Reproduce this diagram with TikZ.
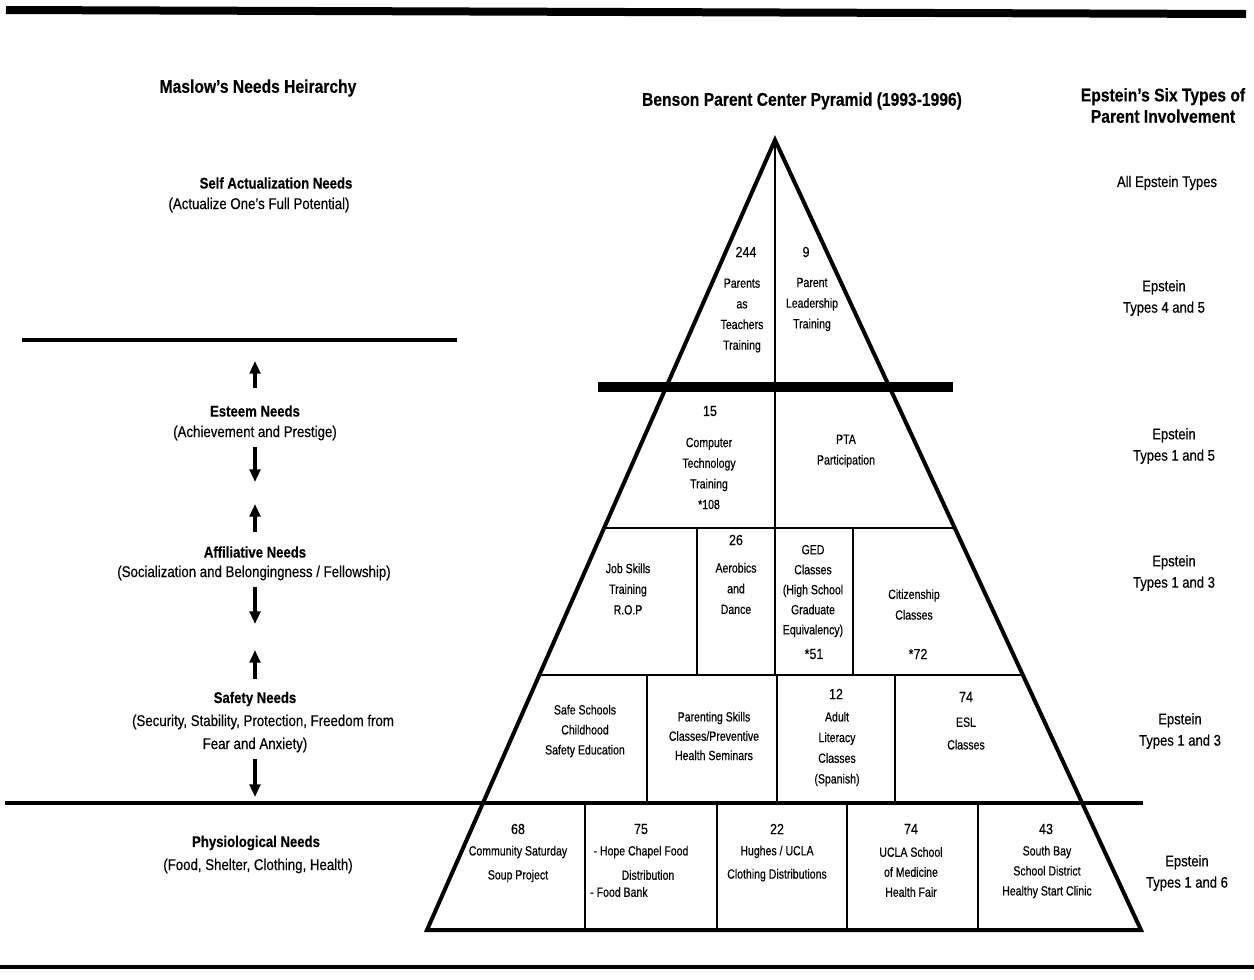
\documentclass[tikz,border=0pt]{standalone}
\usepackage{fontspec}
\setmainfont[FakeStretch=0.85, FakeBold=0.4]{Liberation Sans}
\newfontfamily\cellfont[FakeStretch=0.79, FakeBold=0.4]{Liberation Sans}
\usetikzlibrary{arrows.meta}
\begin{document}
\begin{tikzpicture}[x=0.75pt,y=-0.75pt,
  rule/.style={line width=#1, line cap=butt},
  edge/.style={line width=3pt, line join=miter},
  div/.style={line width=2pt},
  cell/.style={align=center, inner sep=0pt, font=\cellfont\fontsize{10}{15.5}\selectfont},
  num/.style={inner sep=0pt, font=\fontsize{11}{12}\selectfont},
  head/.style={inner sep=0pt, font=\bfseries\fontsize{13.8}{16}\selectfont, align=center},
  lbl/.style={inner sep=0pt, font=\fontsize{11.7}{13}\selectfont},
  lblb/.style={inner sep=0pt, font=\bfseries\fontsize{11.6}{13}\selectfont},
  rt/.style={inner sep=0pt, align=center, font=\fontsize{11.5}{16}\selectfont},
  arr/.style={line width=2.3pt, -{Triangle[length=9.5pt,width=8pt]}}
]
\useasboundingbox (0,0) rectangle (1254,979);

% rules
\draw[rule=6pt] (6,10) -- (1246,14);
\draw[rule=3pt] (0,967) -- (1254,967);
\draw[rule=3.5pt] (22,340) -- (457,340);
\draw[rule=3.5pt] (5,803) -- (1143,803);

% pyramid
\coordinate (apex) at (775,140);
\coordinate (bl) at (427,930);
\coordinate (br) at (1141,930);
\draw[edge] (bl) -- (apex) -- (br) -- cycle;
% row lines
\draw[div] (604.1,528) -- (954.6,528);
\draw[div] (539.3,675) -- (1022.7,675);
% thick bar
\draw[rule=7.5pt] (598,387) -- (953,387);
% vertical dividers
\draw[div] (775,140) -- (775,675);
\draw[div] (697,528) -- (697,675);
\draw[div] (853,528) -- (853,675);
\draw[div] (647,675) -- (647,803);
\draw[div] (777,675) -- (777,803);
\draw[div] (895,675) -- (895,803);
\draw[div] (585,803) -- (585,930);
\draw[div] (717,803) -- (717,930);
\draw[div] (847,803) -- (847,930);
\draw[div] (978,803) -- (978,930);

% titles
\node[head] (maslow) at (258,88) {Maslow's Needs Heirarchy};
\node[head] (benson) at (802,101) {Benson Parent Center Pyramid (1993-1996)};
\node[head] (epstein) at (1163,105.5) {Epstein's Six Types of\\Parent Involvement};

% left column
\node[lblb] (selfh) at (276,183) {Self Actualization Needs};
\node[lbl] (selft) at (259,205) {(Actualize One's Full Potential)};
\node[lblb] (esth) at (255,411) {Esteem Needs};
\node[lbl] (estt) at (255,433) {(Achievement and Prestige)};
\node[lblb] (affh) at (255,552) {Affiliative Needs};
\node[lbl] (afft) at (254,573) {(Socialization and Belongingness / Fellowship)};
\node[lblb] (safh) at (255,699) {Safety Needs};
\node[lbl] (saft1) at (263,722) {(Security, Stability, Protection, Freedom from};
\node[lbl] (saft2) at (255,745) {Fear and Anxiety)};
\node[lblb] (phyh) at (256,843) {Physiological Needs};
\node[lbl] (phyt) at (258,866) {(Food, Shelter, Clothing, Health)};

% arrows
\coordinate (a1s) at (255,388); \coordinate (a1e) at (255,361);
\coordinate (a2s) at (255,447); \coordinate (a2e) at (255,482);
\coordinate (a3s) at (255,532); \coordinate (a3e) at (255,504);
\coordinate (a4s) at (255,587); \coordinate (a4e) at (255,624);
\coordinate (a5s) at (255,679); \coordinate (a5e) at (255,650);
\coordinate (a6s) at (255,759); \coordinate (a6e) at (255,797);
\draw[arr] (a1s) -- (a1e);
\draw[arr] (a2s) -- (a2e);
\draw[arr] (a3s) -- (a3e);
\draw[arr] (a4s) -- (a4e);
\draw[arr] (a5s) -- (a5e);
\draw[arr] (a6s) -- (a6e);

% right column
\node[rt] (ep0) at (1167,183) {All Epstein Types};
\node[rt] (ep1) at (1164,298) {Epstein\\Types 4 and 5};
\node[rt] (ep2) at (1174,446) {Epstein\\Types 1 and 5};
\node[rt] (ep3) at (1174,573) {Epstein\\Types 1 and 3};
\node[rt] (ep4) at (1180,731) {Epstein\\Types 1 and 3};
\node[rt] (ep5) at (1187,873) {Epstein\\Types 1 and 6};

% top triangle
\node[num] (n244) at (746,252) {244};
\node[cell] (c11) at (742,315.5) {Parents\\as\\Teachers\\Training};
\node[num] (n9) at (806,252) {9};
\node[cell] (c12) at (812,304.5) {Parent\\Leadership\\Training};

% row 2
\node[num] (n15) at (710,411) {15};
\node[cell] (c21) at (709,473.5) {Computer\\Technology\\Training\\*108};
\node[cell] (c22) at (846,451) {PTA\\Participation};

% row 3
\node[cell] (c31) at (628,589) {Job Skills\\Training\\R.O.P};
\node[num] (n26) at (736,540) {26};
\node[cell] (c32) at (736,588.5) {Aerobics\\and\\Dance};
\node[cell, font=\cellfont\fontsize{10}{15}\selectfont] (c33) at (813,591) {GED\\Classes\\(High School\\Graduate\\Equivalency)};
\node[num] (n51) at (814,654) {*51};
\node[cell] (c34) at (914,604.5) {Citizenship\\Classes};
\node[num] (n72) at (918,654) {*72};

% row 4
\node[cell, font=\cellfont\fontsize{10}{15}\selectfont] (c41) at (585,731) {Safe Schools\\Childhood\\Safety Education};
\node[cell, font=\cellfont\fontsize{10}{14.5}\selectfont] (c42) at (714,736) {Parenting Skills\\Classes/Preventive\\Health Seminars};
\node[num] (n12) at (836,694) {12};
\node[cell] (c43) at (837,749) {Adult\\Literacy\\Classes\\(Spanish)};
\node[num] (n74a) at (966,697) {74};
\node[cell, font=\cellfont\fontsize{10}{17}\selectfont] (c44) at (966,733.5) {ESL\\Classes};

% row 5
\node[num] (n68) at (518,829) {68};
\node[cell, font=\cellfont\fontsize{10}{18}\selectfont] (c51) at (518,864) {Community Saturday\\Soup Project};
\node[num] (n75) at (641,829) {75};
\node[cell] (c52a) at (641,852) {- Hope Chapel Food};
\node[cell] (c52b) at (648,875) {Distribution};
\node[cell, anchor=west] (c52c) at (590,892) {- Food Bank};
\node[num] (n22) at (777,829) {22};
\node[cell, font=\cellfont\fontsize{10}{17.5}\selectfont] (c53) at (777,863.5) {Hughes / UCLA\\Clothing Distributions};
\node[num] (n74b) at (911,829) {74};
\node[cell, font=\cellfont\fontsize{10}{15}\selectfont] (c54) at (911,872) {UCLA School\\of Medicine\\Health Fair};
\node[num] (n43) at (1046,829) {43};
\node[cell, font=\cellfont\fontsize{10}{15}\selectfont] (c55) at (1047,872) {South Bay\\School District\\Healthy Start Clinic};
\end{tikzpicture}
\end{document}
